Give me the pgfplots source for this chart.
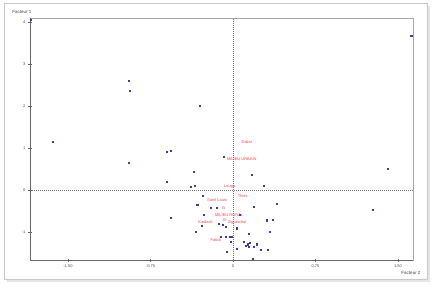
\documentclass[border=0pt]{standalone}
\usepackage{pgfplots}
\pgfplotsset{compat=1.18}
\usepackage{fontspec}
\setmainfont{Liberation Sans}
\definecolor{pt}{RGB}{60,60,160}
\definecolor{lbl}{RGB}{240,70,80}
\begin{document}
\begin{tikzpicture}[x=1pt,y=1pt]
\fill[white] (0,0) rectangle (432,285);
\fill[black!10] (7,3) rectangle (430,279);
\draw[black!22, fill=white, line width=0.6pt] (4,6) rectangle (427,282);
\begin{axis}[
  at={(30pt,25pt)}, anchor=south west,
  scale only axis, width=383pt, height=242pt,
  xmin=-1.845, xmax=1.636, ymin=-1.667, ymax=4.095,
  axis line style={black!35, line width=0.8pt},
  xtick={-1.5,-0.75,0,0.75,1.5},
  xticklabels={-1.50,-0.75,0,0.75,1.50},
  ytick={-1,0,1,2,3,4},
  tick pos=left, tick align=center,
  major tick length=3pt,
  tick style={black!60, line width=0.4pt},
  tick label style={font=\fontsize{4}{5}\selectfont, text=black!70},
  xticklabel style={yshift=0.5pt},
  yticklabel style={xshift=0.5pt},
  /pgf/number format/assume math mode=true,
  clip=false,
]
\draw[black!60, line width=0.8pt] (rel axis cs:0,1) -- (rel axis cs:0,0) -- (rel axis cs:1,0);
\draw[black!55, line width=0.5pt, dash pattern=on 1pt off 1pt] (axis cs:0,-1.667) -- (axis cs:0,4.095);
\draw[black!55, line width=0.5pt, dash pattern=on 1pt off 1pt] (axis cs:-1.845,0) -- (axis cs:1.636,0);
\addplot[only marks, mark=square*, mark size=0.55pt, color=pt] coordinates {
(-1.84,4.06) (-0.945,2.60) (-0.94,2.37) (-1.636,1.15) (-0.948,0.65)
(-0.30,2.00) (-0.60,0.91) (-0.564,0.925) (-0.088,0.79) (-0.357,0.44)
(-0.60,0.19) (-0.385,0.08) (-0.345,0.095) (0.173,0.36) (0.275,0.095)
(1.41,0.50) (1.62,3.67) (1.27,-0.48)
(-0.276,-0.14) (-0.325,-0.34) (-0.203,-0.43) (-0.152,-0.43) (-0.264,-0.595)
(-0.564,-0.66) (-0.132,-0.80) (-0.094,-0.82) (-0.07,-0.88) (-0.282,-0.85)
(-0.34,-1.00) (0.03,-0.91) (0.19,-0.40) (0.40,-0.33) (0.31,-0.72)
(0.357,-0.71) (0.336,-0.99) (0.143,-1.05) (-0.112,-1.11) (-0.066,-1.11)
(-0.03,-1.11) (-0.012,-1.11) (-0.021,-1.23) (0.094,-1.23) (0.134,-1.29)
(0.148,-1.25) (0.115,-1.33) (0.218,-1.29) (0.03,-1.39) (0.139,-1.36)
(0.185,-1.36) (0.252,-1.43) (0.312,-1.43) (-0.061,-1.48) (0.179,-1.63)
(0.064,-0.59)
};
\begin{scope}[every node/.style={font=\fontsize{4}{5}\selectfont, text=lbl, inner sep=0pt}]
\node at (axis cs:0.127,1.14) {Dakar};
\node at (axis cs:0.08,0.74) {MILIEU URBAIN};
\node at (axis cs:-0.03,0.08) {Louga};
\node at (axis cs:0.088,-0.135) {Thies};
\node at (axis cs:-0.145,-0.245) {Saint Louis};
\node at (axis cs:-0.085,-0.44) {B};
\node at (axis cs:-0.036,-0.59) {MILIEU RURAL};
\node at (axis cs:-0.076,-0.71) {B};
\node at (axis cs:0.04,-0.77) {Ziguinchor};
\node at (axis cs:-0.25,-0.755) {Kaolack};
\node at (axis cs:-0.155,-1.19) {Fatick};
\end{scope}
\end{axis}
\node[font=\fontsize{4.5}{5}\selectfont, text=black!75] at (22,273) {Facteur 1};
\node[font=\fontsize{4.5}{5}\selectfont, text=black!75] at (411,12.3) {Facteur 2};
\end{tikzpicture}
\end{document}
